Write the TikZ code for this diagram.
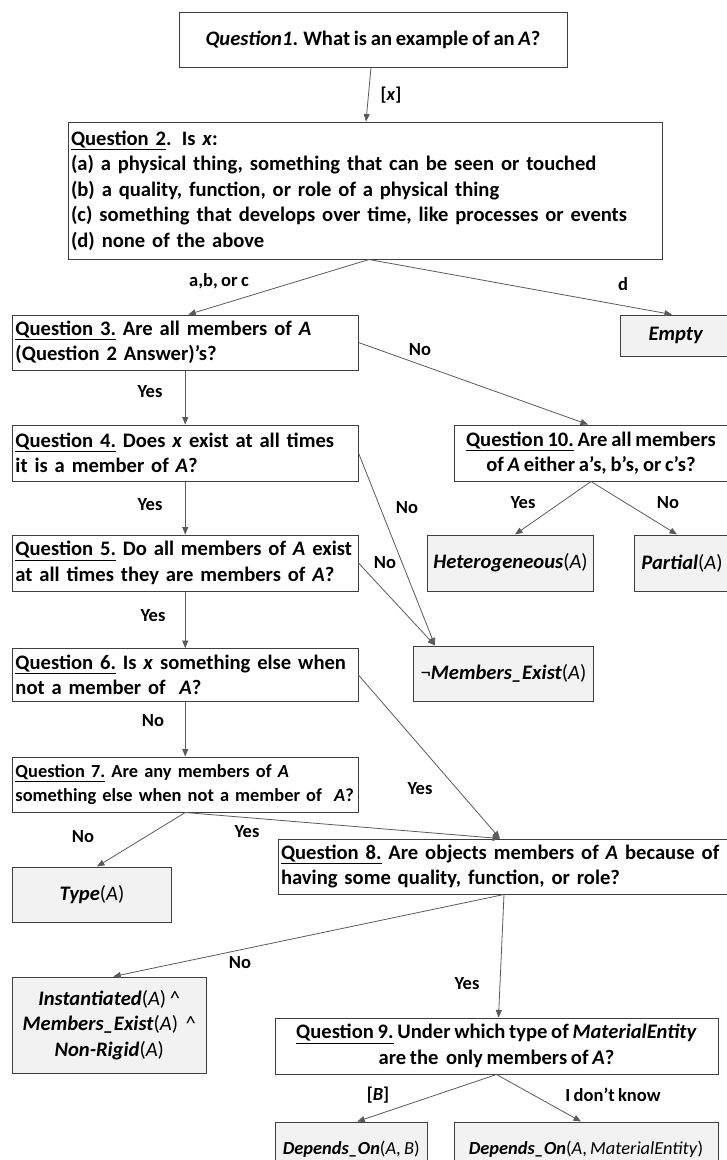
\documentclass[tikz,border=0pt]{standalone}
\usepackage{fontspec}
\setmainfont{Carlito}[WordSpace=0.8]
\usetikzlibrary{arrows.meta,calc}
\definecolor{boxline}{HTML}{3F3F3F}
\definecolor{arrowline}{HTML}{5A5A5A}
\definecolor{resfill}{HTML}{F2F2F2}
\newcommand{\qul}[1]{\underline{#1}}
\newcommand{\rg}[1]{{\mdseries #1}}
\newcommand{\one}[1]{\mbox{#1}}
\begin{document}
\begin{tikzpicture}[x=1pt,y=-1pt,
  every node/.style={font=\fontsize{20.6}{25.5}\selectfont\bfseries},
  qbox/.style={draw=boxline, line width=1pt, fill=white, inner xsep=3pt, inner ysep=0pt, align=left},
  cbox/.style={draw=boxline, line width=1pt, fill=white, inner sep=0pt, align=center},
  rbox/.style={draw=boxline, line width=1pt, fill=resfill, inner sep=0pt, align=center},
  conn/.style={draw=arrowline, line width=0.8pt, -{Triangle[length=7.5pt,width=6pt]}},
  lbl/.style={inner sep=0pt, font=\fontsize{18.5}{22}\selectfont\bfseries}]
\useasboundingbox (0,0) rectangle (727,1160);
\fill[white] (0,0) rectangle (727,1160);

% question boxes
\node[cbox, minimum width=388pt, minimum height=55pt] (q1) at (373,39.5)
  {\textit{Question1}. What is an example of an \textit{A}?};
\node[qbox, text width=588pt, minimum height=137pt] (q2) at (365,190.5)
  {\one{\qul{Question 2}. Is \textit{x}:}\\
   \one{(a) a physical thing, something that can be seen or touched}\\
   \one{(b) a quality, function, or role of a physical thing}\\
   \one{(c) something that develops over time, like processes or events}\\
   \one{(d) none of the above}};
\node[qbox, text width=339.5pt, minimum height=55pt] (q3) at (185.25,342.5)
  {\one{\qul{Question 3.} Are all members of \textit{A}}\\\one{(Question 2 Answer)’s?}};
\node[qbox, text width=339.5pt, minimum height=56pt] (q4) at (185.25,453)
  {\one{\qul{Question 4.} Does \textit{x} exist at all times}\\\one{it is a member of \textit{A}?}};
\node[qbox, text width=339.5pt, minimum height=56pt] (q5) at (185.25,563)
  {\one{\qul{Question 5.} Do all members of \textit{A} exist}\\\one{at all times they are members of \textit{A}?}};
\node[qbox, text width=339.5pt, minimum height=53pt] (q6) at (185.25,675)
  {\one{\qul{Question 6.} Is \textit{x} something else when}\\\one{not a member of\ \ \textit{A}?}};
\node[qbox, text width=339.5pt, minimum height=55pt, font=\fontsize{18.4}{23.5}\selectfont\bfseries] (q7) at (185.25,784.5)
  {\one{\qul{Question 7.} Are any members of \textit{A}}\\\one{something else when not a member of\ \ \textit{A}?}};
\node[qbox, text width=446pt, minimum height=55pt] (q8) at (504,866.5)
  {\one{\qul{Question 8.} Are objects members of \textit{A} because of}\\\one{having some quality, function, or role?}};
\node[cbox, minimum width=443pt, minimum height=56pt] (q9) at (496.5,1046)
  {\qul{Question 9.} Under which type of \textit{MaterialEntity}\\are the\ \ only members of \textit{A}?};
\node[cbox, minimum width=274pt, minimum height=56pt] (q10) at (591,453)
  {\qul{Question 10.} Are all members\\of \textit{A} either a's, b's, or c's?};

% result boxes
\node[rbox, minimum width=112pt, minimum height=41pt] (empty) at (676,335.5) {\textit{Empty}};
\node[rbox, minimum width=166pt, minimum height=56pt] (het) at (510.5,563)
  {\textit{Heterogeneous}\rg{(\textit{A})}};
\node[rbox, minimum width=96pt, minimum height=56pt] (partial) at (682,563)
  {\textit{Partial}\rg{(\textit{A})}};
\node[rbox, minimum width=180pt, minimum height=55pt] (me) at (503.5,673.5)
  {\rg{¬}\textit{Members\_Exist}\rg{(\textit{A})}};
\node[rbox, minimum width=159pt, minimum height=55pt] (type) at (92,894.5)
  {\textit{Type}\rg{(\textit{A})}};
\node[rbox, minimum width=193.5pt, minimum height=96pt] (inst) at (109.25,1025)
  {\textit{Instantiated}\rg{(\textit{A}) \textasciicircum}\\
   \textit{Members\_Exist}\rg{(\textit{A})\ \ \textasciicircum}\\
   \textit{Non-Rigid}\rg{(\textit{A})}};
\node[rbox, minimum width=152.5pt, minimum height=55pt, font=\fontsize{18.4}{22}\selectfont\bfseries] (depb) at (351.25,1149.5)
  {\textit{Depends\_On}\rg{(\textit{A}, \textit{B})}};
\node[rbox, minimum width=264pt, minimum height=55pt, font=\fontsize{18.4}{22}\selectfont\bfseries] (depme) at (586,1149.5)
  {\textit{Depends\_On}\rg{(\textit{A}, \textit{MaterialEntity})}};

% anchor points
\coordinate (meIn) at ($(me.north west)+(22,0)$);
\coordinate (q8In) at ([xshift=-4pt]q8.north);

% connectors
\draw[conn] ([xshift=-2pt]q1.south) -- ([xshift=1pt]q2.north);
\draw[conn] ([xshift=4pt]q2.south) -- ([xshift=3pt]q3.north);
\draw[conn] ([xshift=4pt]q2.south) -- ([xshift=-4pt]empty.north);
\draw[conn] (q3.east) -- ([xshift=-3pt]q10.north);
\draw[conn] (q3.south) -- (q4.north);
\draw[conn] (q4.south) -- (q5.north);
\draw[conn] (q5.south) -- (q6.north);
\draw[conn] (q6.south) -- (q7.north);
\draw[conn] (q4.east) -- (meIn);
\draw[conn] (q5.east) -- (meIn);
\draw[conn] (q10.south) -- ([xshift=4.5pt]het.north);
\draw[conn] (q10.south) -- ([xshift=-5pt]partial.north);
\draw[conn] (q6.east) -- (q8In);
\draw[conn] (q7.south) -- (q8In);
\draw[conn] (q7.south) -- ([xshift=5pt]type.north);
\draw[conn] (q8.south) -- ([xshift=4pt]inst.north);
\draw[conn] (q8.south) -- ([xshift=2pt]q9.north);
\draw[conn] (q9.south) -- ([xshift=6pt]depb.north);
\draw[conn] (q9.south) -- ([xshift=-5pt]depme.north);

% labels
\node[lbl] (lx) at (391,95) {[\textit{x}]};
\node[lbl] (labc) at (219,281) {a,b,\ or\ c};
\node[lbl] (ld) at (623,284) {d};
\node[lbl] (l3no) at (420,350) {No};
\node[lbl] (l3yes) at (150,392) {Yes};
\node[lbl] (l10yes) at (523,503) {Yes};
\node[lbl] (l10no) at (668,503) {No};
\node[lbl] (l4yes) at (150,505) {Yes};
\node[lbl] (l4no) at (407,508) {No};
\node[lbl] (l5no) at (385,563) {No};
\node[lbl] (l5yes) at (153,616) {Yes};
\node[lbl] (l6no) at (153,721) {No};
\node[lbl] (l6yes) at (420,789) {Yes};
\node[lbl] (l7yes) at (247,832) {Yes};
\node[lbl] (l7no) at (83,837) {No};
\node[lbl] (l8no) at (240,963) {No};
\node[lbl] (l8yes) at (467,984) {Yes};
\node[lbl] (l9b) at (378,1095) {[\textit{B}]};
\node[lbl] (l9dk) at (613,1095) {I don’t know};
\end{tikzpicture}
\end{document}
